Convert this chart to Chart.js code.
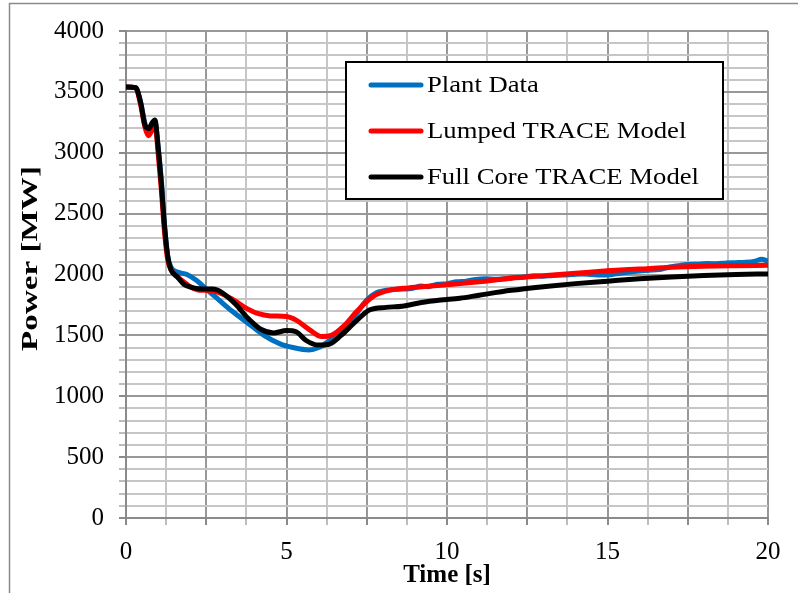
<!DOCTYPE html>
<html>
<head>
<meta charset="utf-8">
<script src="https://cdn.jsdelivr.net/npm/chart.js@4/dist/chart.umd.min.js"></script>
<style>
  html, body { margin: 0; padding: 0; background: #ffffff; }
  #wrap { width: 798px; height: 593px; position: relative; }
</style>
</head>
<body>
<div id="wrap"><canvas id="c" width="798" height="593"></canvas></div>
<script>
// Reactor power transient: measured plant data vs. two TRACE models
const plantTime  = [0, 0.3, 0.45, 0.6, 0.7, 0.8, 0.9, 1.0, 1.1, 1.2, 1.3, 1.4, 1.6, 1.9, 2.2, 2.5, 2.9, 3.3, 3.8, 4.3, 4.8, 5.2, 5.7, 6.0, 6.3, 6.7, 7.1, 7.5, 7.8, 8.0, 8.3, 8.6, 8.9, 9.2, 9.4, 9.7, 10.0, 10.3, 10.6, 10.9, 11.2, 11.5, 11.8, 12.1, 12.4, 12.7, 13.0, 13.3, 13.6, 13.9, 14.2, 14.5, 14.8, 15.1, 15.4, 15.7, 16.0, 16.3, 16.6, 16.9, 17.2, 17.5, 17.8, 18.1, 18.4, 18.7, 19.0, 19.3, 19.6, 19.8, 20.0];
const plantPower = [3540, 3535, 3420, 3230, 3180, 3230, 3260, 3050, 2780, 2400, 2150, 2060, 2020, 2000, 1950, 1880, 1790, 1700, 1600, 1500, 1430, 1400, 1380, 1400, 1450, 1530, 1650, 1790, 1850, 1865, 1875, 1880, 1885, 1905, 1900, 1920, 1925, 1940, 1945, 1960, 1965, 1960, 1965, 1975, 1980, 1990, 1985, 1992, 1995, 2000, 2005, 2000, 1995, 1998, 2010, 2020, 2028, 2035, 2040, 2060, 2072, 2082, 2085, 2090, 2088, 2095, 2097, 2100, 2110, 2125, 2110];

const lumpedTime  = [0, 0.3, 0.45, 0.6, 0.7, 0.8, 0.9, 1.0, 1.1, 1.2, 1.3, 1.45, 1.7, 2.0, 2.3, 2.6, 2.9, 3.3, 3.7, 4.1, 4.5, 5.0, 5.3, 5.7, 6.1, 6.4, 6.8, 7.2, 7.7, 8.2, 8.8, 9.5, 10, 11, 12, 13, 14, 15, 16, 17, 18, 19, 20];
const lumpedPower = [3540, 3535, 3400, 3200, 3140, 3180, 3240, 3000, 2700, 2350, 2120, 2020, 1960, 1900, 1870, 1870, 1850, 1800, 1730, 1680, 1660, 1655, 1625, 1550, 1490, 1500, 1580, 1700, 1820, 1870, 1890, 1905, 1915, 1940, 1970, 1990, 2010, 2030, 2045, 2060, 2068, 2072, 2075];

const fullTime  = [0, 0.3, 0.45, 0.6, 0.72, 0.8, 0.9, 1.0, 1.1, 1.2, 1.3, 1.4, 1.6, 1.8, 2.1, 2.4, 2.7, 3.0, 3.4, 3.8, 4.2, 4.6, 5.0, 5.3, 5.6, 6.0, 6.3, 6.7, 7.1, 7.6, 8.1, 8.6, 9.2, 9.8, 10.4, 11, 12, 13, 14, 15, 16, 17, 18, 19, 20];
const fullPower = [3540, 3535, 3420, 3220, 3200, 3240, 3270, 3050, 2750, 2400, 2150, 2040, 1980, 1920, 1890, 1880, 1880, 1850, 1760, 1640, 1550, 1520, 1540, 1530, 1460, 1420, 1425, 1500, 1600, 1710, 1730, 1740, 1770, 1790, 1805, 1830, 1870, 1900, 1925, 1945, 1965, 1980, 1992, 2000, 2005];

const seriesNames = ['Plant Data', 'Lumped TRACE Model', 'Full Core TRACE Model'];
const seriesColors = ['#0070C0', '#FF0000', '#000000'];

const xMin = 0, xMax = 20, xStep = 1.25, xLabelEvery = 5, xMajorEvery = 2.5;
const yMin = 0, yMax = 4000, yStep = 100, yLabelEvery = 500;

const xAxisTitle = 'Time [s]';
const yAxisTitle = 'Power [MW]';

const SERIF = '"Liberation Serif", "Times New Roman", serif';
const isMultiple = (v, m) => Math.abs(v / m - Math.round(v / m)) < 1e-6;

const toPoints = (ts, vs) => ts.map((t, i) => ({ x: t, y: vs[i] }));

// Framing line round the whole chart plus a white backdrop
const framePlugin = {
  id: 'frame',
  beforeDraw(chart) {
    const ctx = chart.ctx;
    ctx.save();
    ctx.fillStyle = '#ffffff';
    ctx.fillRect(0, 0, chart.width, chart.height);
    ctx.strokeStyle = '#8a8a8a';
    ctx.lineWidth = 1.5;
    ctx.strokeRect(9.5, 3.5, chart.width + 20, chart.height + 20);
    ctx.restore();
  }
};

// Vertical axis title, widened along its reading direction
const yTitlePlugin = {
  id: 'yTitle',
  afterDraw(chart) {
    const ctx = chart.ctx;
    const area = chart.chartArea;
    ctx.save();
    ctx.translate(31, (area.top + area.bottom) / 2 - 16);
    ctx.rotate(-Math.PI / 2);
    ctx.scale(1.38, 1);
    ctx.font = 'bold 24px ' + SERIF;
    ctx.fillStyle = '#000000';
    ctx.textAlign = 'center';
    ctx.textBaseline = 'middle';
    ctx.fillText(yAxisTitle, 0, 0);
    ctx.restore();
  }
};

// Boxed legend that sits inside the plot area
const boxLegend = {
  id: 'boxLegend',
  afterDraw(chart) {
    const ctx = chart.ctx;
    const box = { x: 346, y: 62, w: 377, h: 137 };
    ctx.save();
    ctx.fillStyle = '#ffffff';
    ctx.fillRect(box.x, box.y, box.w, box.h);
    ctx.strokeStyle = '#000000';
    ctx.lineWidth = 2;
    ctx.strokeRect(box.x, box.y, box.w, box.h);
    const rows = [85, 131, 177];
    chart.data.datasets.forEach((ds, i) => {
      const y = rows[i];
      ctx.strokeStyle = ds.borderColor;
      ctx.lineWidth = 5;
      ctx.lineCap = 'round';
      ctx.beginPath();
      ctx.moveTo(371, y);
      ctx.lineTo(421, y);
      ctx.stroke();
      ctx.save();
      ctx.translate(427, y + 1);
      ctx.scale(1.16, 1);
      ctx.font = '23px ' + SERIF;
      ctx.textBaseline = 'middle';
      ctx.textAlign = 'left';
      ctx.fillStyle = '#000000';
      ctx.fillText(ds.label, 0, 0);
      ctx.restore();
    });
    ctx.restore();
  }
};

const lineStyle = (i) => ({
  label: seriesNames[i],
  borderColor: seriesColors[i],
  backgroundColor: seriesColors[i],
  borderWidth: 5,
  pointRadius: 0,
  cubicInterpolationMode: 'monotone',
  fill: false,
  borderCapStyle: 'round',
  borderJoinStyle: 'round'
});

new Chart(document.getElementById('c'), {
  type: 'line',
  data: {
    datasets: [
      { ...lineStyle(0), data: toPoints(plantTime, plantPower), order: 2 },
      { ...lineStyle(1), data: toPoints(lumpedTime, lumpedPower), order: 1 },
      { ...lineStyle(2), data: toPoints(fullTime, fullPower), order: 0 }
    ]
  },
  options: {
    responsive: false,
    animation: false,
    devicePixelRatio: 1,
    layout: { padding: { top: 31, right: 30, bottom: 0, left: 0 } },
    plugins: { legend: { display: false }, tooltip: { enabled: false } },
    scales: {
      x: {
        type: 'linear',
        min: xMin, max: xMax,
        afterFit(scale) { scale.height = 75; },
        ticks: {
          stepSize: xStep,
          autoSkip: false,
          maxRotation: 0,
          padding: 12,
          color: '#000000',
          font: { family: SERIF, size: 25 },
          callback: (v) => isMultiple(v, xLabelEvery) ? String(v) : ''
        },
        grid: {
          color: (c) => isMultiple(c.tick.value, xMajorEvery) ? '#989898' : '#c6c6c6',
          lineWidth: 2,
          tickLength: 7,
          tickColor: (c) => isMultiple(c.tick.value, xMajorEvery) ? '#8a8a8a' : '#bdbdbd'
        },
        border: { color: '#8a8a8a', width: 2 },
        title: {
          display: true,
          text: xAxisTitle,
          color: '#000000',
          font: { family: SERIF, size: 25, weight: 'bold' },
          padding: { top: 0, bottom: 2 }
        }
      },
      y: {
        min: yMin, max: yMax,
        afterFit(scale) { scale.width = 126; },
        ticks: {
          stepSize: yStep,
          autoSkip: false,
          padding: 15,
          color: '#000000',
          font: { family: SERIF, size: 25 },
          callback: (v) => isMultiple(v, yLabelEvery) ? String(v) : ''
        },
        grid: {
          color: (c) => isMultiple(c.tick.value, yLabelEvery) ? '#989898' : '#c6c6c6',
          lineWidth: 2,
          tickLength: 7,
          tickColor: (c) => isMultiple(c.tick.value, yLabelEvery) ? '#8a8a8a' : '#bdbdbd'
        },
        border: { color: '#8a8a8a', width: 2 },
        title: { display: false }
      }
    }
  },
  plugins: [framePlugin, yTitlePlugin, boxLegend]
});
</script>
</body>
</html>
